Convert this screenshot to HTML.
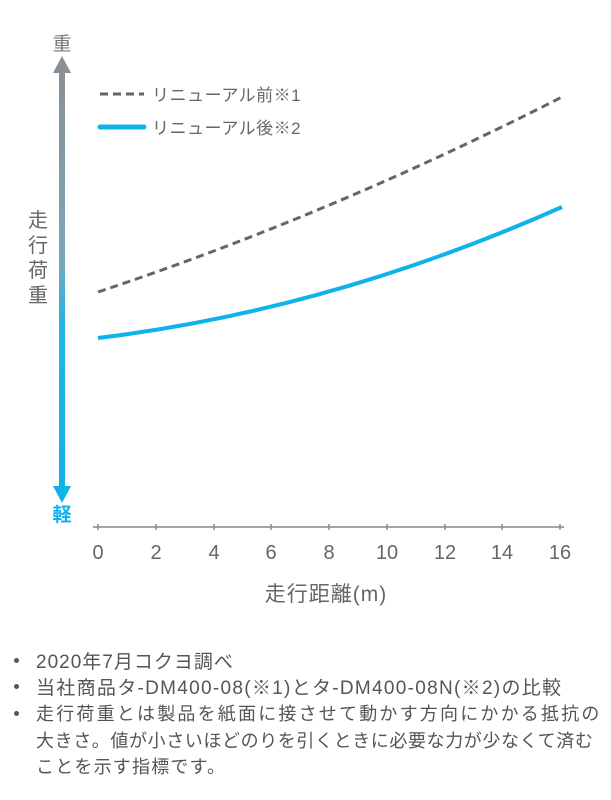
<!DOCTYPE html>
<html><head><meta charset="utf-8"><style>
html,body{margin:0;padding:0;background:#fff;width:611px;height:800px;overflow:hidden;}
body{font-family:"Liberation Sans","Noto Sans CJK JP",sans-serif;color:#555;position:relative;}
.n{position:absolute;left:36px;font-size:18px;color:#555;white-space:nowrap;letter-spacing:1px;}
.b{position:absolute;left:14px;width:5px;height:5px;border-radius:50%;background:#555;}
</style></head><body>
<svg width="611" height="640" style="position:absolute;left:0;top:0" font-family="Liberation Sans, Noto Sans CJK JP, sans-serif">
<defs><linearGradient id="g" x1="0" y1="0" x2="0" y2="1">
<stop offset="0" stop-color="#8a8f93"/><stop offset="0.45" stop-color="#7aa8b8"/><stop offset="0.6" stop-color="#22b4e6"/><stop offset="1" stop-color="#10b2ea"/></linearGradient></defs>
<text x="62" y="50" font-size="19" fill="#777" text-anchor="middle">重</text>
<rect x="59" y="68" width="6" height="424" fill="url(#g)"/>
<polygon points="62,56 53,73 71,73" fill="#8a8f93"/>
<polygon points="62,503 53,486 71,486" fill="#10b2ea"/>
<text x="62" y="521" font-size="19" fill="#10b2ea" text-anchor="middle" font-weight="bold">軽</text>
<g font-size="20" fill="#666" text-anchor="middle"><text x="38" y="227">走</text><text x="38" y="252">行</text><text x="38" y="277">荷</text><text x="38" y="302">重</text></g>
<line x1="100" y1="94" x2="144" y2="94" stroke="#666" stroke-width="3" stroke-dasharray="8,5"/>
<text x="152" y="101" font-size="17" fill="#666" letter-spacing="0.5">リニューアル前※1</text>
<line x1="100" y1="127" x2="144" y2="127" stroke="#10b2ea" stroke-width="5" stroke-linecap="round"/>
<text x="152" y="134" font-size="17" fill="#666" letter-spacing="0.5">リニューアル後※2</text>
<path d="M98,292 Q330,215 562,97" fill="none" stroke="#666" stroke-width="3" stroke-dasharray="8,5"/>
<path d="M98,338 Q330,310 562,207" fill="none" stroke="#10b2ea" stroke-width="4"/>
<line x1="93" y1="527" x2="564" y2="527" stroke="#888" stroke-width="1.5"/>
<g stroke="#888" stroke-width="1.5">
<line x1="98" y1="524" x2="98" y2="530"/><line x1="156" y1="524" x2="156" y2="530"/><line x1="214" y1="524" x2="214" y2="530"/><line x1="271" y1="524" x2="271" y2="530"/><line x1="329" y1="524" x2="329" y2="530"/><line x1="387" y1="524" x2="387" y2="530"/><line x1="445" y1="524" x2="445" y2="530"/><line x1="502" y1="524" x2="502" y2="530"/><line x1="560" y1="524" x2="560" y2="530"/></g>
<g font-size="20" fill="#666" text-anchor="middle">
<text x="98" y="559">0</text><text x="156" y="559">2</text><text x="214" y="559">4</text><text x="271" y="559">6</text><text x="329" y="559">8</text><text x="387" y="559">10</text><text x="445" y="559">12</text><text x="502" y="559">14</text><text x="560" y="559">16</text></g>
<text x="326" y="601" font-size="21" fill="#666" text-anchor="middle" letter-spacing="1">走行距離(m)</text>
</svg>
<div class="b" style="top:658px"></div><div class="n" style="top:647px;font-size:19px">2020年7月コクヨ調べ</div>
<div class="b" style="top:684px"></div><div class="n" style="top:673px;font-size:19px;letter-spacing:1.3px">当社商品タ-DM400-08(※1)とタ-DM400-08N(※2)の比較</div>
<div class="b" style="top:711px"></div>
<div class="n" style="top:700px;letter-spacing:2.2px">走行荷重とは製品を紙面に接させて動かす方向にかかる抵抗の</div>
<div class="n" style="top:727px;letter-spacing:0.6px">大きさ。値が小さいほどのりを引くときに必要な力が少なくて済む</div>
<div class="n" style="top:753px;letter-spacing:1.2px">ことを示す指標です。</div>
</body></html>
